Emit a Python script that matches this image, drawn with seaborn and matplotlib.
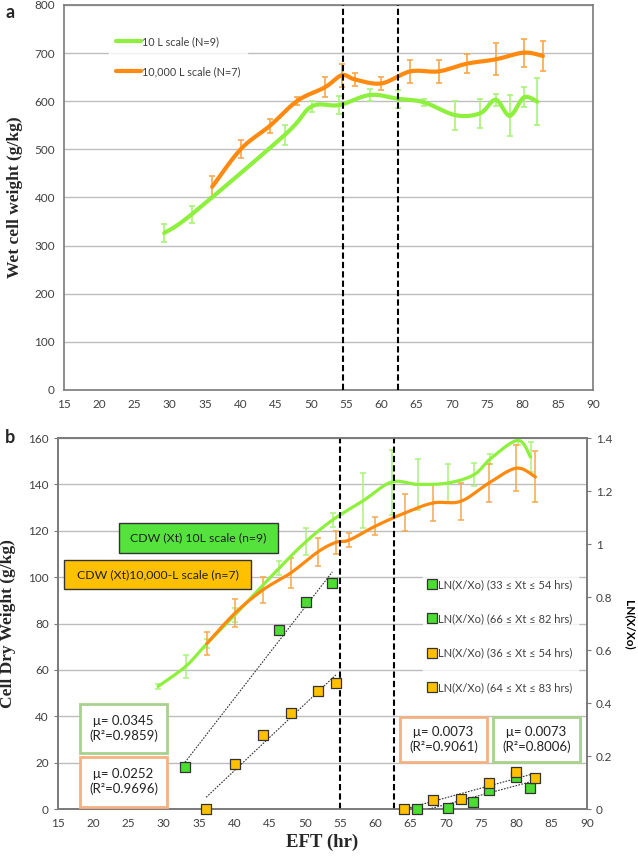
import numpy as np
import pandas as pd
import matplotlib
matplotlib.use("Agg")
import matplotlib.pyplot as plt
from matplotlib.patches import Rectangle
from matplotlib.lines import Line2D
import seaborn as sns

# ============================================================
# Data
# ============================================================
# panel a : wet cell weight (g/kg)
a_green_x = [29.2, 33.1, 46.3, 50.1, 54.0, 58.4, 62.4, 66.0, 70.5, 74.0, 76.2, 78.2, 80.2, 82.1]
a_green_y = [326, 365, 530, 589, 592, 613, 605, 598, 571, 575, 603, 570, 608, 599]
a_green_err = [19, 18, 20, 12, 18, 13, 19, 7, 30, 30, 12, 42, 21, 49]

a_orange_x = [36.0, 40.1, 44.2, 48.1, 52.0, 54.4, 56.3, 60.0, 64.1, 68.1, 72.1, 76.2, 80.2, 82.9]
a_orange_y = [422, 501, 549, 601, 629, 654, 645, 637, 662, 662, 678, 687, 701, 694]
a_orange_err = [22, 18, 15, 8, 21, 24, 14, 13, 24, 24, 20, 33, 29, 32]

# panel b : cell dry weight (g/kg)
b_green_x = [29.2, 33.1, 36.1, 40.1, 46.4, 50.2, 54.0, 58.3, 62.3, 66.0, 70.3, 74.0, 76.3, 80.2, 82.0]
b_green_y = [52.9, 61.5, 71.3, 83.8, 104, 115.4, 124.8, 133, 141, 140, 140.6, 144.2, 151, 159, 151.8]
b_green_err = [1, 5, 2, 3, 3, 6, 3, 12, 14, 11, 8, 5, 2, 2, 6.5]

b_orange_x = [36.1, 40.1, 44.1, 48.0, 51.9, 54.4, 56.3, 60.0, 64.2, 68.2, 72.1, 76.1, 80.0, 82.7]
b_orange_y = [71.3, 84.5, 94.6, 101.8, 111, 115, 116, 122, 127.7, 132, 132.7, 140.6, 147, 143.2]
b_orange_err = [5, 6, 5.6, 6.5, 6, 5, 3, 4, 8, 8, 8, 8, 10, 11]

# panel b : LN(X/Xo) squares (right axis)
ln_g1_x = [33.0, 46.3, 50.1, 53.9]
ln_g1_y = [0.157, 0.677, 0.782, 0.853]
ln_g2_x = [65.9, 70.3, 73.8, 76.1, 80.0, 81.9]
ln_g2_y = [0.0, 0.005, 0.025, 0.072, 0.120, 0.080]
ln_y1_x = [36.0, 40.1, 44.0, 48.0, 51.9, 54.4]
ln_y1_y = [0.0, 0.170, 0.281, 0.362, 0.444, 0.474]
ln_y2_x = [64.1, 68.1, 72.1, 76.1, 80.0, 82.6]
ln_y2_y = [0.0, 0.034, 0.037, 0.097, 0.138, 0.116]

ln_labels = [
    "LN(X/Xo) (33 ≤ Xt ≤ 54 hrs)",
    "LN(X/Xo) (66 ≤ Xt ≤ 82 hrs)",
    "LN(X/Xo) (36 ≤ Xt ≤ 54 hrs)",
    "LN(X/Xo) (64 ≤ Xt ≤ 83 hrs)",
]
mu_texts = [
    "μ= 0.0345\n(R²=0.9859)",
    "μ= 0.0252\n(R²=0.9696)",
    "μ= 0.0073\n(R²=0.9061)",
    "μ= 0.0073\n(R²=0.8006)",
]

dash_a = [54.5, 62.3]
dash_b = [55.0, 62.6]

# ============================================================
# Colours / style
# ============================================================
GREEN = "#8DF03C"
GREEN_ERR = "#A9F27A"
ORANGE = "#FF8A0F"
ORANGE_ERR = "#F7A84E"
SQ_GREEN = "#4CDC32"
SQ_YELLOW = "#FFC000"
TICK_COL = "#404040"
GRID_COL = "#BDBDBD"
SPINE_COL = "#7A7A7A"

sns.set_style("white")
plt.rcParams["font.family"] = ["Lato", "DejaVu Sans"]
SERIF = ["Liberation Serif", "DejaVu Serif"]


def smooth(x, y, xr, yr, n=24):
    # Excel-like smoothed line (Catmull-Rom through the points)
    px = (np.asarray(x, float) - xr[0]) / (xr[1] - xr[0])
    py = (np.asarray(y, float) - yr[0]) / (yr[1] - yr[0])
    P = np.column_stack([px, py])
    P = np.vstack([P[0], P, P[-1]])
    out = []
    t = np.linspace(0, 1, n)[:, None]
    for i in range(1, len(P) - 2):
        p0, p1, p2, p3 = P[i - 1], P[i], P[i + 1], P[i + 2]
        c = 0.5 * ((2 * p1) + (-p0 + p2) * t + (2 * p0 - 5 * p1 + 4 * p2 - p3) * t ** 2
                   + (-p0 + 3 * p1 - 3 * p2 + p3) * t ** 3)
        out.append(c)
    out = np.vstack(out)
    return out[:, 0] * (xr[1] - xr[0]) + xr[0], out[:, 1] * (yr[1] - yr[0]) + yr[0]


def style_axis(ax):
    for s in ax.spines.values():
        s.set_color(SPINE_COL)
        s.set_linewidth(1.2)
    ax.tick_params(axis="both", labelsize=8.5, colors=SPINE_COL, labelcolor=TICK_COL,
                   length=3, width=0.8, direction="out")
    ax.yaxis.grid(True, color=GRID_COL, lw=1)
    ax.set_axisbelow(True)


fig = plt.figure(figsize=(6.38, 8.58), dpi=100)

# ============================================================
# Panel a : Wet cell weight
# ============================================================
ax_a = fig.add_axes([0.1003, 0.5455, 0.8292, 0.4487])
xr = (15, 90)
yr = (0, 800)

ax_a.errorbar(a_green_x, a_green_y, yerr=a_green_err, fmt="none", ecolor=GREEN_ERR,
              elinewidth=1.2, capsize=2.5, capthick=1.2, zorder=2)
ax_a.errorbar(a_orange_x, a_orange_y, yerr=a_orange_err, fmt="none", ecolor=ORANGE_ERR,
              elinewidth=1.2, capsize=2.5, capthick=1.2, zorder=2)

sx, sy = smooth(a_green_x, a_green_y, xr, yr)
sns.lineplot(x=sx, y=sy, sort=False, color=GREEN, lw=3, ax=ax_a, zorder=3,
             label="10 L scale (N=9)")
sx, sy = smooth(a_orange_x, a_orange_y, xr, yr)
sns.lineplot(x=sx, y=sy, sort=False, color=ORANGE, lw=3, ax=ax_a, zorder=3,
             label="10,000 L scale (N=7)")

for d in dash_a:
    ax_a.axvline(d, color="black", ls=(0, (3, 1.5)), lw=1.5, zorder=4)

ax_a.set_xlim(xr)
ax_a.set_ylim(yr)
ax_a.set_xticks(np.arange(15, 91, 5))
ax_a.set_yticks(np.arange(0, 801, 100))
style_axis(ax_a)
ax_a.set_ylabel("Wet cell weight (g/kg)", family=SERIF, fontweight="bold", fontsize=12.5,
                labelpad=8)

leg = ax_a.legend(loc="upper left", bbox_to_anchor=(0.075, 0.95), frameon=True,
                  fontsize=7.8, handlelength=2.3, handletextpad=0.15, labelspacing=1.75,
                  borderpad=0.6, fancybox=False)
leg.get_frame().set_facecolor("white")
leg.get_frame().set_edgecolor("white")
for t in leg.get_texts():
    t.set_color(TICK_COL)

fig.text(0.008, 0.985, "a", fontsize=13, fontweight="bold", va="center")

# ============================================================
# Panel b : Cell dry weight + LN(X/Xo)
# ============================================================
ax_b = fig.add_axes([0.0909, 0.0571, 0.8291, 0.4324])
yr_b = (0, 160)

ax_b.errorbar(b_green_x, b_green_y, yerr=b_green_err, fmt="none", ecolor=GREEN_ERR,
              elinewidth=1.1, capsize=2.2, capthick=1.1, zorder=2)
ax_b.errorbar(b_orange_x, b_orange_y, yerr=b_orange_err, fmt="none", ecolor=ORANGE_ERR,
              elinewidth=1.1, capsize=2.2, capthick=1.1, zorder=2)
sx, sy = smooth(b_green_x, b_green_y, xr, yr_b)
ax_b.plot(sx, sy, color=GREEN, lw=2.3, zorder=3)
sx, sy = smooth(b_orange_x, b_orange_y, xr, yr_b)
ax_b.plot(sx, sy, color=ORANGE, lw=2.3, zorder=3)

for d in dash_b:
    ax_b.axvline(d, color="black", ls=(0, (3, 1.5)), lw=1.5, zorder=4)

ax_b.set_xlim(xr)
ax_b.set_ylim(yr_b)
ax_b.set_xticks(np.arange(15, 91, 5))
ax_b.set_yticks(np.arange(0, 161, 20))
style_axis(ax_b)
ax_b.set_ylabel("Cell Dry Weight (g/kg)", family=SERIF, fontweight="bold", fontsize=12.5,
                labelpad=9)
ax_b.set_xlabel("EFT (hr)", family=SERIF, fontweight="bold", fontsize=13.5, labelpad=3)

# series name boxes
box_specs = [
    (0.115, 0.690, 0.301, 0.081, "#55E23C", "CDW (Xt) 10L scale (n=9)"),
    (0.011, 0.593, 0.354, 0.078, SQ_YELLOW, "CDW (Xt)10,000-L scale (n=7)"),
]
for x0, y0, w, h, fc, txt in box_specs:
    ax_b.add_patch(Rectangle((x0, y0), w, h, transform=ax_b.transAxes, facecolor=fc,
                             edgecolor="#333333", lw=1.0, zorder=5))
    ax_b.text(x0 + w / 2, y0 + h / 2, txt, transform=ax_b.transAxes, ha="center",
              va="center", fontsize=8.8, color="#222222", zorder=6)

# right axis : LN(X/Xo)
ax2 = ax_b.twinx()
ax2.set_ylim(0, 1.4)
ax2.set_yticks(np.arange(0, 1.41, 0.2))
ax2.set_yticklabels(["0", "0.2", "0.4", "0.6", "0.8", "1", "1.2", "1.4"])
for s in ax2.spines.values():
    s.set_color(SPINE_COL)
    s.set_linewidth(1.2)
ax2.tick_params(axis="y", labelsize=8.5, colors=SPINE_COL, labelcolor=TICK_COL, length=3)
fig.text(0.986, 0.272, "LN(X/Xo)", fontweight="bold", fontsize=8.5, rotation=270,
         ha="center", va="center", color="black")

ln_sets = [
    (ln_g1_x, ln_g1_y, SQ_GREEN),
    (ln_g2_x, ln_g2_y, SQ_GREEN),
    (ln_y1_x, ln_y1_y, SQ_YELLOW),
    (ln_y2_x, ln_y2_y, SQ_YELLOW),
]
handles = []
for (lx, ly, col), lab in zip(ln_sets, ln_labels):
    k, c = np.polyfit(lx, ly, 1)
    fx = np.array([min(lx), max(lx)])
    ax2.plot(fx, k * fx + c, color="#333333", ls=(0, (1.5, 1.2)), lw=0.8, zorder=3)
    df = pd.DataFrame({"x": lx, "y": ly})
    sns.scatterplot(data=df, x="x", y="y", marker="s", s=42, color=col,
                    edgecolor="#333333", linewidth=0.9, ax=ax2, zorder=4, clip_on=False)
    handles.append(Line2D([], [], marker="s", ls="none", markersize=6.5, markerfacecolor=col,
                          markeredgecolor="#333333", markeredgewidth=0.9, label=lab))
ax2.set_xlabel("")
ax2.set_ylabel("")

leg2 = ax2.legend(handles=handles, loc="upper left", bbox_to_anchor=(0.68, 0.65),
                  frameon=True, fontsize=8, handlelength=0.6, handletextpad=0.25,
                  labelspacing=2.1, borderpad=0.5, fancybox=False)
leg2.get_frame().set_facecolor("white")
leg2.get_frame().set_edgecolor("white")
for t in leg2.get_texts():
    t.set_color(TICK_COL)

# mu boxes
mu_specs = [
    (0.0416, 0.151, 0.1645, 0.132, "#A9D18E"),
    (0.0416, 0.006, 0.1645, 0.135, "#F4B183"),
    (0.6465, 0.127, 0.1645, 0.121, "#F4B183"),
    (0.8223, 0.127, 0.1645, 0.121, "#A9D18E"),
]
for (x0, y0, w, h, ec), txt in zip(mu_specs, mu_texts):
    ax2.add_patch(Rectangle((x0, y0), w, h, transform=ax2.transAxes, facecolor="white",
                            edgecolor=ec, lw=2.0, zorder=5))
    ax2.text(x0 + w / 2, y0 + h / 2, txt, transform=ax2.transAxes, ha="center",
             va="center", fontsize=9.5, color="#222222", linespacing=1.25, zorder=6)

fig.text(0.008, 0.49, "b", fontsize=13, fontweight="bold", va="center")

plt.savefig("out.png", dpi=100)
